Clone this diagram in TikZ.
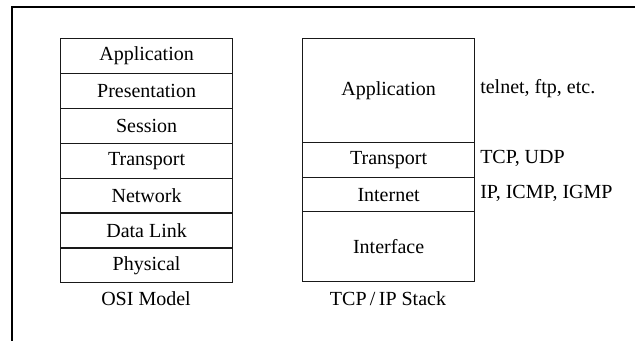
\documentclass[tikz,border=0pt]{standalone}
\usepackage{fontspec}
\setmainfont{Liberation Serif}
\begin{document}
\begin{tikzpicture}[x=0.75pt,y=-0.75pt,
  txt/.style={font=\fontsize{15}{17}\selectfont},
  layer/.style={txt,draw=black!90,line width=0.9pt,minimum width=172*0.75pt,
    inner sep=0pt,anchor=north west},
  caption/.style={txt},
  proto/.style={txt,anchor=west,inner sep=0pt},
  frame/.style={line width=1.6pt}]
\useasboundingbox (0,0) rectangle (635,341);
% outer frame (top and left edges)
\coordinate (fr-tr) at (635,7);
\coordinate (fr-tl) at (12,7);
\coordinate (fr-bl) at (12,341);
\draw[frame] (fr-tr) -- (fr-tl) -- (fr-bl);
% OSI model stack
\node[layer,minimum height=34.9*0.75pt] (osi1) at (60,38) {Application};
\node[layer,minimum height=34.9*0.75pt] (osi2) at (60,72.9) {Presentation};
\node[layer,minimum height=34.9*0.75pt] (osi3) at (60,107.8) {Session};
\node[layer,minimum height=34.9*0.75pt] (osi4) at (60,142.7) {Transport};
\node[layer,minimum height=34.9*0.75pt] (osi5) at (60,177.6) {Network};
\node[layer,minimum height=34.9*0.75pt] (osi6) at (60,212.5) {Data Link};
\node[layer,minimum height=34.9*0.75pt] (osi7) at (60,247.4) {Physical};
\node[caption] (osicap) at (146,299) {OSI Model};
% TCP/IP stack
\node[layer,minimum height=104*0.75pt] (tcp1) at (302,38) {Application};
\node[layer,minimum height=35*0.75pt] (tcp2) at (302,142) {Transport};
\node[layer,minimum height=34*0.75pt] (tcp3) at (302,177) {Internet};
\node[layer,minimum height=70*0.75pt] (tcp4) at (302,211) {Interface};
\node[caption] (tcpcap) at (388,299) {TCP\,/\,IP Stack};
% protocols per layer
\node[proto] (p1) at (480,89) {telnet, ftp, etc.};
\node[proto] (p2) at (480,158) {TCP, UDP};
\node[proto] (p3) at (480,193) {IP, ICMP, IGMP};
\end{tikzpicture}
\end{document}
